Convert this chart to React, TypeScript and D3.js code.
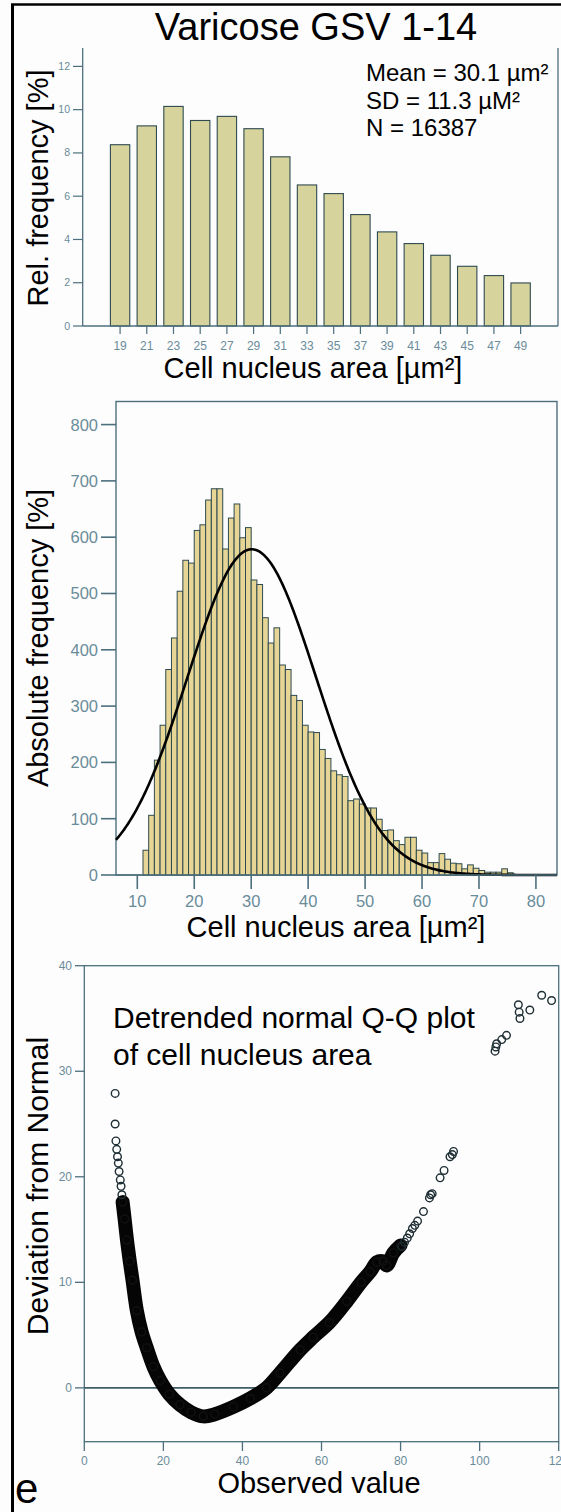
import React from "react";
import * as d3 from "d3";

// ---- top chart: relative frequency by 2 µm² classes
const relCategories = [19, 21, 23, 25, 27, 29, 31, 33, 35, 37, 39, 41, 43, 45, 47, 49];
const relValues = [8.38, 9.25, 10.15, 9.5, 9.69, 9.12, 7.82, 6.52, 6.12, 5.15, 4.35, 3.81, 3.27, 2.76, 2.33, 1.99];
const relYTicks = [0, 2, 4, 6, 8, 10, 12];

// ---- middle chart: absolute frequency, 1 µm² bins (bin start)
const histBins = [
  11, 12, 13, 14, 15, 16, 17, 18, 19, 20, 21, 22, 23, 24, 25, 26, 27, 28, 29, 30, 31, 32,
  33, 34, 35, 36, 37, 38, 39, 40, 41, 42, 43, 44, 45, 46, 47, 48, 49, 50, 51, 52, 53, 54,
  55, 56, 57, 58, 59, 60, 61, 62, 63, 64, 65, 66, 67, 68, 69, 70, 71, 72, 73, 74, 75,
];
const histCounts = [
  44, 106, 204, 266, 365, 421, 504, 559, 554, 612, 622, 666, 686, 686, 579, 634, 659, 599,
  617, 524, 516, 457, 412, 439, 373, 365, 319, 310, 266, 254, 253, 223, 207, 185, 178, 175,
  132, 135, 126, 119, 119, 99, 79, 80, 61, 54, 67, 67, 44, 39, 22, 22, 38, 28, 21, 20, 11,
  18, 12, 8, 5, 5, 5, 11, 4,
];
const histXTicks = [10, 20, 30, 40, 50, 60, 70, 80];
const histYTicks = [0, 100, 200, 300, 400, 500, 600, 700, 800];
const fitMean = 30.1;
const fitSD = 11.3;
const fitN = 16387;

// ---- bottom chart: detrended normal Q-Q plot
// dense part of the cloud (read along its centre)
const qqBandObserved = [
  9.7, 10.2, 10.8, 11.5, 12.2, 13.3, 14.5, 15.8, 17.5, 19.2, 21.5, 24.2, 27, 30.1, 33, 37.7,
  42, 46.1, 49.5, 54.6, 57.9, 62, 66.4, 70, 72.3, 74, 75.5, 76.5, 78.2, 80,
];
const qqBandDeviation = [
  17.6, 16.0, 14.0, 12.0, 10.2, 7.3, 5.3, 3.8, 2.0, 0.7, -0.6, -1.6, -2.3, -2.7, -2.5, -1.8,
  -1.0, 0.0, 1.4, 3.6, 4.8, 6.2, 8.2, 10.0, 11.0, 11.9, 12.0, 11.6, 12.8, 13.5,
];
// separate circles
const qqPointObserved = [
  7.8, 7.8, 8.0, 8.2, 8.4, 8.6, 8.8, 9.1, 9.3, 9.5,
  80.3, 81, 81.7, 82.3, 83, 83.6, 84.3, 85.8, 87.3, 87.6, 88, 90, 91, 92.5, 93.1, 93.4,
  103.9, 104.1, 104.3, 105.6, 106.8, 109.8, 110, 110.2, 112.7, 115.7, 118.2,
];
const qqPointDeviation = [
  27.9, 25.0, 23.4, 22.6, 21.9, 21.3, 20.5, 19.7, 19.1, 18.3,
  13.4, 13.8, 14.2, 14.6, 15.1, 15.4, 15.8, 16.7, 18.0, 18.3, 18.4, 19.9, 20.6, 21.9, 22.1, 22.4,
  31.9, 32.3, 32.6, 33.0, 33.4, 36.3, 35.6, 35.0, 35.8, 37.2, 36.7,
];
const qqXTicks = [0, 20, 40, 60, 80, 100, 120];
const qqYTicks = [0, 10, 20, 30, 40];

const FONT = "'Liberation Sans', Arial, Helvetica, sans-serif";
const axisColor = "#4c6f7d";
const tickColor = "#6a8c99";
const barStroke = "#2f4a4f";

export default function App() {
  // top chart scales
  const relX = d3.scaleLinear().domain([16.2, 51.8]).range([82.7, 558]);
  const relY = d3.scaleLinear().domain([0, 12.85]).range([326, 48]);
  const relBarW = relX(1.45) - relX(0);

  // middle chart scales
  const hX = d3.scaleLinear().domain([6.26, 83.7]).range([116, 557]);
  const hY = d3.scaleLinear().domain([0, 841]).range([875, 401.5]);
  const fitLine = d3
    .line<number>()
    .x((v) => hX(v))
    .y((v) => {
      const z = (v - fitMean) / fitSD;
      return hY((fitN / (fitSD * Math.sqrt(2 * Math.PI))) * Math.exp(-0.5 * z * z));
    });
  const fitXs = d3.range(6.26, 83.7, 0.2).concat([83.7]);

  // bottom chart scales
  const qX = d3.scaleLinear().domain([0, 120]).range([84.3, 558.7]);
  const qY = d3.scaleLinear().domain([-5.1, 40]).range([1441.7, 965.7]);
  const bandLine = d3
    .line<number>()
    .x((v) => qX(v))
    .y((_, i) => qY(qqBandDeviation[i]))
    .curve(d3.curveCatmullRom);

  return (
    <svg
      width={561}
      height={1512}
      viewBox="0 0 561 1512"
      style={{ position: "absolute", left: 0, top: 0, background: "#ffffff" }}
      fontFamily={FONT}
    >
      <rect x={0} y={0} width={561} height={1512} fill="#fdfdfe" />
      {/* figure frame */}
      <line x1={12.5} x2={12.5} y1={4} y2={1512} stroke="#000" strokeWidth={3} />
      <line x1={11} x2={561} y1={4.5} y2={4.5} stroke="#000" strokeWidth={2.5} />

      {/* ================= TOP CHART ================= */}
      <text x={316} y={40} fontSize={38} textAnchor="middle" fill="#000">
        Varicose GSV 1-14
      </text>
      {relValues.map((v, i) => (
        <rect
          key={i}
          x={relX(relCategories[i]) - relBarW / 2}
          y={relY(v)}
          width={relBarW}
          height={relY(0) - relY(v)}
          fill="#d7d39c"
          stroke={barStroke}
          strokeWidth={1.1}
        />
      ))}
      <line x1={relX.range()[0]} x2={relX.range()[0]} y1={48} y2={326} stroke={axisColor} strokeWidth={1.3} />
      <line x1={relX.range()[1]} x2={relX.range()[1]} y1={48} y2={326} stroke={axisColor} strokeWidth={1.3} />
      <line x1={relX.range()[0]} x2={relX.range()[1]} y1={326} y2={326} stroke={axisColor} strokeWidth={1.3} />
      {relYTicks.map((t) => (
        <g key={t}>
          <line x1={73} x2={82.7} y1={relY(t)} y2={relY(t)} stroke={axisColor} strokeWidth={1.2} />
          <text x={70} y={relY(t) + 3.5} fontSize={10.5} textAnchor="end" fill={tickColor}>
            {t}
          </text>
        </g>
      ))}
      {relCategories.map((c) => (
        <g key={c}>
          <line x1={relX(c)} x2={relX(c)} y1={326} y2={334} stroke={axisColor} strokeWidth={1.2} />
          <text x={relX(c)} y={350} fontSize={12} textAnchor="middle" fill={tickColor}>
            {c}
          </text>
        </g>
      ))}
      <text x={366} y={81} fontSize={24} fill="#000">Mean = 30.1 µm²</text>
      <text x={366} y={108.5} fontSize={24} fill="#000">SD = 11.3 µM²</text>
      <text x={366} y={136} fontSize={24} fill="#000">N = 16387</text>
      <text transform="translate(48,188) rotate(-90)" fontSize={29} textAnchor="middle" fill="#000">
        Rel. frequency [%]
      </text>
      <text x={313} y={378} fontSize={29} textAnchor="middle" fill="#000">
        Cell nucleus area [µm²]
      </text>

      {/* ================= MIDDLE CHART ================= */}
      <rect x={116} y={401.5} width={441} height={473.5} fill="#fdfdfe" stroke={axisColor} strokeWidth={1.4} />
      {histCounts.map((c, i) => (
        <rect
          key={i}
          x={hX(histBins[i])}
          y={hY(c)}
          width={hX(histBins[i] + 1) - hX(histBins[i])}
          height={hY(0) - hY(c)}
          fill="#e6d594"
          stroke={barStroke}
          strokeWidth={1}
        />
      ))}
      <path d={fitLine(fitXs) ?? ""} fill="none" stroke="#000" strokeWidth={2.6} />
      <line x1={116} x2={557} y1={875} y2={875} stroke={axisColor} strokeWidth={1.6} />
      {histYTicks.map((t) => (
        <g key={t}>
          <line x1={101} x2={116} y1={hY(t)} y2={hY(t)} stroke={axisColor} strokeWidth={1.6} />
          <text x={98} y={hY(t) + 6} fontSize={16.5} textAnchor="end" fill={tickColor}>
            {t}
          </text>
        </g>
      ))}
      {histXTicks.map((t) => (
        <g key={t}>
          <line x1={hX(t)} x2={hX(t)} y1={875} y2={889} stroke={axisColor} strokeWidth={1.6} />
          <text x={hX(t)} y={907} fontSize={16.5} textAnchor="middle" fill={tickColor}>
            {t}
          </text>
        </g>
      ))}
      <text transform="translate(48,638) rotate(-90)" fontSize={29} textAnchor="middle" fill="#000">
        Absolute frequency [%]
      </text>
      <text x={336} y={937} fontSize={29} textAnchor="middle" fill="#000">
        Cell nucleus area [µm²]
      </text>

      {/* ================= BOTTOM CHART ================= */}
      <rect x={84.3} y={965.7} width={474.4} height={476} fill="#fdfdfe" stroke={axisColor} strokeWidth={1.3} />
      <line x1={84.3} x2={558.7} y1={qY(0)} y2={qY(0)} stroke="#3f5d68" strokeWidth={1.6} />
      <text x={113} y={1028} fontSize={30} fill="#000">Detrended normal Q-Q plot</text>
      <text x={113} y={1065} fontSize={30} fill="#000">of cell nucleus area</text>
      <path d={bandLine(qqBandObserved) ?? ""} fill="none" stroke="#050505" strokeWidth={14} strokeLinecap="round" strokeLinejoin="round" />
      {qqBandObserved.map((v, i) => (
        <circle key={"b" + i} cx={qX(v)} cy={qY(qqBandDeviation[i])} r={4} fill="none" stroke="#111" strokeWidth={1.5} />
      ))}
      {qqPointObserved.map((v, i) => (
        <circle key={"p" + i} cx={qX(v)} cy={qY(qqPointDeviation[i])} r={3.8} fill="none" stroke="#1e2e33" strokeWidth={1.4} />
      ))}
      {qqYTicks.map((t) => (
        <g key={t}>
          <line x1={75} x2={84.3} y1={qY(t)} y2={qY(t)} stroke={axisColor} strokeWidth={1.3} />
          <text x={72} y={qY(t) + 4} fontSize={12} textAnchor="end" fill={tickColor}>
            {t}
          </text>
        </g>
      ))}
      {qqXTicks.map((t) => (
        <g key={t}>
          <line x1={qX(t)} x2={qX(t)} y1={1441.7} y2={1451} stroke={axisColor} strokeWidth={1.3} />
          <text x={qX(t)} y={1465} fontSize={12} textAnchor="middle" fill={tickColor}>
            {t}
          </text>
        </g>
      ))}
      <text transform="translate(48,1186) rotate(-90)" fontSize={30} textAnchor="middle" fill="#000">
        Deviation from Normal
      </text>
      <text x={319} y={1493} fontSize={29} textAnchor="middle" fill="#000">
        Observed value
      </text>
      <text x={15} y={1503} fontSize={42} fill="#000">e</text>
    </svg>
  );
}
